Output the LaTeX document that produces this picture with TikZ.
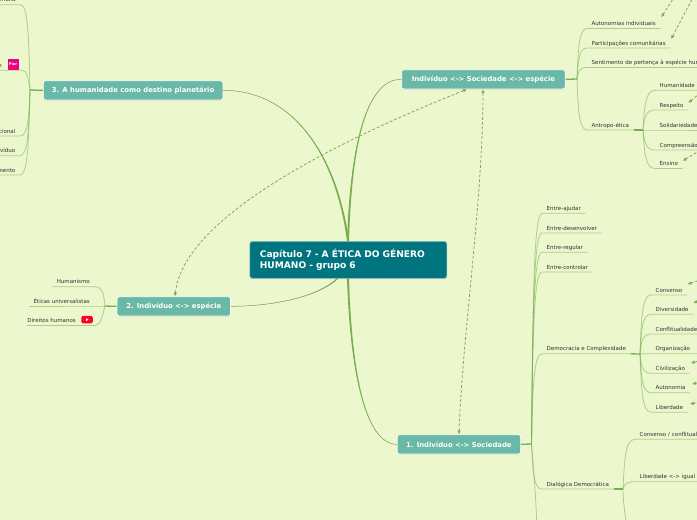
\documentclass[tikz,border=0pt]{standalone}
\usepackage{fontspec}
\setmainfont{DejaVu Sans}
\usetikzlibrary{arrows.meta, positioning, calc, shadows}

\definecolor{paper}{RGB}{236,247,206}
\definecolor{rootfill}{RGB}{0,117,128}
\definecolor{topicfill}{RGB}{105,184,168}
\definecolor{branch}{RGB}{122,173,79}
\definecolor{inktext}{RGB}{50,50,45}

% curve from a junction to the start of a leaf underline, then along it
\newcommand{\leafline}[2]{%
  \draw[subline] let \p1=(#1), \p2=(#2.south west) in
    (#1) .. controls (\x1+0.12*\x2-0.12*\x1, \y1+0.6*\y2-0.6*\y1)
             and (\x1+0.2*\x2-0.2*\x1, \y2) .. (#2.south west) -- (#2.south east);}
\newcommand{\leaflineL}[2]{%
  \draw[subline] let \p1=(#1), \p2=(#2.south east) in
    (#1) .. controls (\x1+0.12*\x2-0.12*\x1, \y1+0.6*\y2-0.6*\y1)
             and (\x1+0.2*\x2-0.2*\x1, \y2) .. (#2.south east) -- (#2.south west);}
% tapered main branch
\newcommand{\mainbranch}[4]{%
  \fill[mainline] ($(#1)+(-1,0)$) .. controls (#2) and (#3) .. (#4)
    .. controls (#3) and ($(#2)+(1.6,0)$) .. ($(#1)+(1,0)$) -- cycle;
  \draw[branch, line width=0.5pt] (#1) .. controls (#2) and (#3) .. (#4);}

\begin{document}
\begin{tikzpicture}[
  x=1pt, y=-1pt,
  rootnode/.style={rectangle, rounded corners=2.5pt, draw=white!55!rootfill, fill=rootfill,
                   line width=0.7pt, text=white, align=left, anchor=north west, inner sep=0pt,
                   minimum width=197pt, minimum height=37pt,
                   font=\fontsize{9.1}{11}\selectfont\bfseries,
                   drop shadow={opacity=0.12, shadow xshift=0pt, shadow yshift=-1pt}},
  topicnode/.style={rectangle, rounded corners=2pt, draw=white, fill=topicfill,
                    line width=0.7pt, text=white, anchor=north west, inner sep=0pt,
                    minimum height=19pt,
                    font=\fontsize{6.85}{8}\selectfont\bfseries,
                    drop shadow={opacity=0.12, shadow xshift=0pt, shadow yshift=-1pt}},
  leafnode/.style={inner xsep=4.5pt, inner ysep=1.7pt, text=inktext, anchor=south west,
                   font=\fontsize{5.5}{6}\selectfont, text height=4pt, text depth=1pt},
  leafnodeL/.style={leafnode, anchor=south east},
  longleaf/.style={leafnode, text width=#1, align=left},
  stubline/.style={branch, line width=1.3pt},
  subline/.style={branch, line width=0.8pt, opacity=0.55},
  mainline/.style={branch},
  linkline/.style={branch, line width=0.8pt, dash pattern=on 2.8pt off 2pt,
                   {Latex[length=4pt, width=3.6pt]}-{Latex[length=4pt, width=3.6pt]}},
  halflink/.style={branch, line width=0.8pt, dash pattern=on 2.8pt off 2pt,
                   {Latex[length=4pt, width=3.6pt]}-}
]
\useasboundingbox (0,0) rectangle (697,520);
\fill[paper] (0,0) rectangle (697,520);
\clip (0,0) rectangle (697,520);

% Centre and the four topics
\node[rootnode, text width=177pt, inner xsep=10pt] (root) at (249.5,241) {Capítulo 7 - A ÉTICA DO GÉNERO\\HUMANO - grupo 6};
\node[topicnode, minimum width=179.5pt] (human) at (43,80.5) {3. A humanidade como destino planetário};
\node[topicnode, minimum width=113.5pt] (espec) at (116.7,296.5) {2. Indivíduo <-> espécie};
\node[topicnode, minimum width=163.5pt] (trio)  at (401.3,69.5) {Indivíduo <-> Sociedade <-> espécie};
\node[topicnode, minimum width=123.5pt] (socie) at (396.8,434.5) {1. Indivíduo <-> Sociedade};

% Junctions and points on the root edge
\coordinate (rootup)    at (348,241);
\coordinate (rootdown)  at (348,278);
\coordinate (rootleft)  at (338,278);
\coordinate (humanj)    at (30,90);
\coordinate (especj)    at (105,306);
\coordinate (trioj)     at (577,79);
\coordinate (socj)      at (531.5,444);
\coordinate (antroj)    at (643,130);
\coordinate (demoj)     at (640,354);
\coordinate (dialj)     at (623,489);

% Main branches
\mainbranch{rootup}{335,150}{290,90}{human.east}
\mainbranch{rootup}{350,150}{365,79}{trio.west}
\mainbranch{rootleft}{320,295}{280,306}{espec.east}
\mainbranch{rootdown}{350,370}{365,444}{socie.west}

% Left of topic 3
\node[leafnodeL] (l3a) at (20.5,4.7)  {mana};
\node[leafnodeL] (l3b) at (6.5,70.3)  {e};
\coordinate (l3bend) at (22,70.3);
\node[leafnodeL] (l3c) at (20,136)    {nacional};
\node[leafnodeL] (l3d) at (20,155.7)  {indivíduo};
\node[leafnodeL] (l3e) at (20,175)    {mento};
\node[rectangle, fill=magenta!90!red, text=white, inner sep=0pt, minimum width=11pt, minimum height=11pt,
      font=\fontsize{3.6}{4}\selectfont\bfseries] (pier) at (13,64.5) {Pier};

% Left of topic 2
\node[leafnodeL] (huma)  at (94.5,286.7) {Humanismo};
\node[leafnodeL] (etica) at (94.5,306)   {Éticas universalistas};
\node[leafnodeL, inner xsep=0pt] (direi) at (76,325.5) {Direitos humanos};
\coordinate (direiend) at (95,325.5);
\node[rectangle, rounded corners=1.5pt, fill=red!85!magenta, inner sep=0pt, minimum width=11.5pt, minimum height=7.5pt] (ytb) at (87,319.7) {};
\fill[white] ($(ytb)+(-1,-1.5)$) -- ($(ytb)+(1.5,0)$) -- ($(ytb)+(-1,1.5)$) -- cycle;

% Right of the upper topic
\node[leafnode] (auton) at (587,28.4) {Autonomias individuais};
\node[leafnode] (parti) at (587,48)   {Participações comunitárias};
\node[longleaf=130pt] (senti) at (587,67.4) {Sentimento de pertença à espécie hum};
\node[leafnode] (antro) at (587,130)  {Antropo-ética};
\node[longleaf=60pt] (hmnd) at (655,90.3)  {Humanidade};
\node[leafnode] (respe) at (655,110)  {Respeito};
\node[longleaf=60pt] (solid) at (655,130)  {Solidariedade};
\node[longleaf=60pt] (compr) at (655,150)  {Compreensão};
\node[leafnode] (ensin) at (655,168.5) {Ensino};

% Right of topic 1
\node[leafnode] (ajuda) at (542,213.3) {Entre-ajudar};
\node[leafnode] (desen) at (542,233)   {Entre-desenvolver};
\node[leafnode] (regul) at (542,252.3) {Entre-regular};
\node[leafnode] (contr) at (542,272)   {Entre-controlar};
\node[leafnode] (demo)  at (542,353.8) {Democracia e Complexidade};
\node[leafnode] (dial)  at (542,489)   {Dialógica Democrática};

% Under Democracia e Complexidade
\node[leafnode] (cons)  at (651,295)   {Consenso};
\node[leafnode] (diver) at (651,314.3) {Diversidade};
\node[longleaf=60pt] (confl) at (651,334) {Conflitualidade};
\node[longleaf=60pt] (organ) at (651,353.8) {Organização};
\node[leafnode] (civil) at (651,373.3) {Civilização};
\node[leafnode] (autno) at (651,392.7) {Autonomia};
\node[leafnode] (liber) at (651,412.3) {Liberdade};

% Under Dialógica Democrática
\node[longleaf=90pt] (cfl) at (635,439.3) {Consenso / conflitual};
\node[longleaf=90pt] (lib) at (635,481.7) {Liberdade <-> igual};

% --- Stubs ---
\draw[stubline] (human.west) -- (humanj);
\draw[stubline] (espec.west) -- (especj);
\draw[stubline] (trio.east)  -- (trioj);
\draw[stubline] (socie.east) -- (socj);
\draw[stubline] (antro.south east) -- (antroj);
\draw[stubline] (demo.south east)  -- (demoj);
\draw[stubline] (dial.south east)  -- (dialj);

% --- Leaf lines ---
\leaflineL{humanj}{l3a}
\draw[subline] (humanj) .. controls (28,77) and (27,70.3) .. (l3bend) -- (l3b.south west);
\leaflineL{humanj}{l3c}
\leaflineL{humanj}{l3d}
\leaflineL{humanj}{l3e}

\leaflineL{especj}{huma}
\leaflineL{especj}{etica}
\draw[subline] (especj) .. controls (102,318) and (100,325.5) .. (direiend) -- (direi.south west);

\leafline{trioj}{auton}
\leafline{trioj}{parti}
\leafline{trioj}{senti}
\leafline{trioj}{antro}

\leafline{antroj}{hmnd}
\leafline{antroj}{respe}
\leafline{antroj}{solid}
\leafline{antroj}{compr}
\leafline{antroj}{ensin}

\leafline{socj}{ajuda}
\leafline{socj}{desen}
\leafline{socj}{regul}
\leafline{socj}{contr}
\leafline{socj}{demo}
\leafline{socj}{dial}

\leafline{demoj}{cons}
\leafline{demoj}{diver}
\leafline{demoj}{confl}
\leafline{demoj}{organ}
\leafline{demoj}{civil}
\leafline{demoj}{autno}
\leafline{demoj}{liber}

\leafline{dialj}{cfl}
\leafline{dialj}{lib}

% Branches that leave the frame at the bottom
\coordinate (socout)  at (537,530);
\coordinate (dialout) at (627,530);
\draw[subline] (socj)  .. controls (534,470) and (536,500) .. (socout);
\draw[subline] (dialj) .. controls (623,500) and (625,515) .. (dialout);

% --- Dashed links ---
\draw[linkline] (espec.north -| 175,0) .. controls (182,230) and (290,160) .. (trio.south -| 467,0);
\draw[linkline] (socie.north -| 459,0) .. controls (462,340) and (483,200) .. (trio.south -| 483,0);

% Links that come in from outside the frame
\coordinate (linkA) at (680,-12);
\coordinate (linkB) at (702,-20);
\coordinate (linkC) at (712,83);
\coordinate (linkD) at (712,143);
\coordinate (linkE) at (712,276);
\coordinate (linkF) at (712,296);
\coordinate (linkG) at (712,336);
\coordinate (linkH) at (712,358);
\coordinate (linkI) at (712,380);
\coordinate (linkJ) at (712,400);
\draw[halflink] (auton.south east) ++(0.7,-11) -- (linkA);
\draw[halflink] (parti.south east) ++(0.7,-8.7) -- (linkB);
\draw[halflink] (respe.south east) ++(0,-7) -- (linkC);
\draw[halflink] (ensin.south east) ++(0,-7.5) -- (linkD);
\draw[halflink] (cons.south east)  ++(0.3,-10.7) -- (linkE);
\draw[halflink] (diver.south east) ++(0,-11.3) -- (linkF);
\draw[halflink] (organ.south east) ++(-1,-10.8) -- (linkG);
\draw[halflink] (civil.south east) ++(1,-10.3) -- (linkH);
\draw[halflink] (autno.south east) ++(1.7,-8.7) -- (linkI);
\draw[halflink] (liber.south east) ++(2,-8.3) -- (linkJ);

\end{tikzpicture}
\end{document}
